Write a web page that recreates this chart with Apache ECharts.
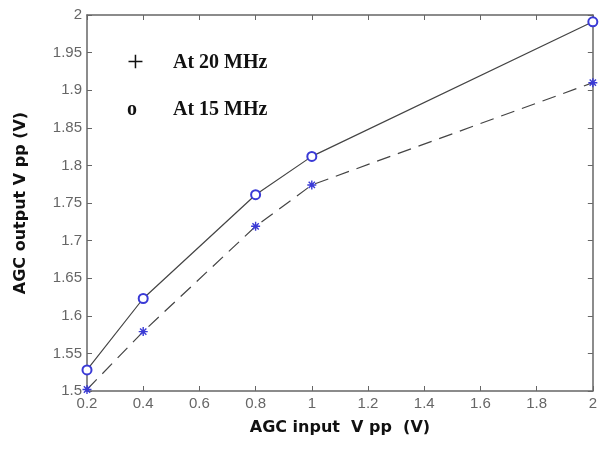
<!DOCTYPE html>
<html>
<head>
<meta charset="utf-8">
<script src="https://cdn.jsdelivr.net/npm/echarts@6/dist/echarts.min.js"></script>
<style>
  html, body { margin: 0; padding: 0; background: #fff; }
  #chart { width: 600px; height: 449px; }
</style>
</head>
<body>
<div id="chart"></div>
<script>
// input voltage (V pp)
const inputV = [0.2, 0.4, 0.8, 1.0, 2.0];
// output at 15 MHz (circles, solid)
const out15 = [1.528, 1.623, 1.761, 1.812, 1.991];
// output at 20 MHz (stars, dashed)
const out20 = [1.502, 1.579, 1.719, 1.774, 1.910];

const seriesNames = ['At 20 MHz', 'At 15 MHz'];
const legendGlyphs = ['+', 'o'];

const chart = echarts.init(document.getElementById('chart'));

// asterisk marker drawn as stroke
const starPath = 'path://M5,0L5,10M0,5L10,5M1.5,1.5L8.5,8.5M8.5,1.5L1.5,8.5';
const blue = '#3a3ad6';
const lineGray = '#444';

function pairs(xs, ys) {
  return xs.map(function (x, i) { return [x, ys[i]]; });
}

var axisLabelStyle = {
  color: '#666',
  fontFamily: 'Liberation Sans',
  fontSize: 15
};

var option = {
  animation: false,
  backgroundColor: '#fff',
  grid: { left: 87, right: 4, top: 15, bottom: 58 },
  legend: {
    orient: 'vertical',
    left: 117,
    top: 43,
    itemGap: 22,
    itemWidth: 0,
    itemHeight: 0,
    icon: 'none',
    selectedMode: false,
    data: seriesNames,
    formatter: function (name) {
      var i = seriesNames.indexOf(name);
      return '{g' + i + '|' + legendGlyphs[i] + '}{t|' + name + '}';
    },
    textStyle: {
      rich: {
        g0: { fontFamily: 'Liberation Serif', fontSize: 30, color: '#111', width: 46, align: 'left' },
        g1: { fontFamily: 'Liberation Serif', fontWeight: 'bold', fontSize: 20, color: '#111', width: 46, align: 'left' },
        t: { fontFamily: 'Liberation Serif', fontWeight: 'bold', fontSize: 20, color: '#111' }
      }
    }
  },
  xAxis: [{
    type: 'value',
    min: 0.2,
    max: 2,
    interval: 0.2,
    name: 'AGC input  V pp  (V)',
    nameLocation: 'middle',
    nameGap: 29,
    nameTextStyle: { fontFamily: 'DejaVu Sans', fontWeight: 'bold', fontSize: 16, color: '#111' },
    axisLine: { lineStyle: { color: '#666', width: 1.5 } },
    axisTick: { inside: true, length: 5, lineStyle: { color: '#666' } },
    axisLabel: Object.assign({ margin: 5 }, axisLabelStyle),
    splitLine: { show: false }
  }, {
    type: 'value',
    position: 'top',
    min: 0.2,
    max: 2,
    interval: 0.2,
    axisLine: { show: true, lineStyle: { color: '#666', width: 1.5 } },
    axisTick: { show: true, inside: true, length: 5, lineStyle: { color: '#666' } },
    axisLabel: { show: false },
    splitLine: { show: false }
  }],
  yAxis: [{
    type: 'value',
    min: 1.5,
    max: 2,
    interval: 0.05,
    name: 'AGC output V pp (V)',
    nameLocation: 'middle',
    nameGap: 58,
    nameTextStyle: { fontFamily: 'DejaVu Sans', fontWeight: 'bold', fontSize: 16, color: '#111' },
    axisLine: { show: true, lineStyle: { color: '#666', width: 1.5 } },
    axisTick: { show: true, inside: true, length: 5, lineStyle: { color: '#666' } },
    axisLabel: Object.assign({ margin: 5 }, axisLabelStyle),
    splitLine: { show: false }
  }, {
    type: 'value',
    position: 'right',
    min: 1.5,
    max: 2,
    interval: 0.05,
    axisLine: { show: true, lineStyle: { color: '#666', width: 1.5 } },
    axisTick: { show: true, inside: true, length: 5, lineStyle: { color: '#666' } },
    axisLabel: { show: false },
    splitLine: { show: false }
  }],
  series: [{
    name: seriesNames[0],
    type: 'line',
    data: pairs(inputV, out20),
    symbol: starPath,
    symbolSize: 9,
    showAllSymbol: true,
    lineStyle: { color: lineGray, width: 1.2, type: [14, 8] },
    itemStyle: { color: 'none', borderColor: blue, borderWidth: 1.4 }
  }, {
    name: seriesNames[1],
    type: 'line',
    data: pairs(inputV, out15),
    symbol: 'emptyCircle',
    symbolSize: 9,
    showAllSymbol: true,
    lineStyle: { color: lineGray, width: 1.2 },
    itemStyle: { color: blue, borderColor: blue, borderWidth: 1.1 }
  }]
};

chart.setOption(option);
</script>
</body>
</html>
